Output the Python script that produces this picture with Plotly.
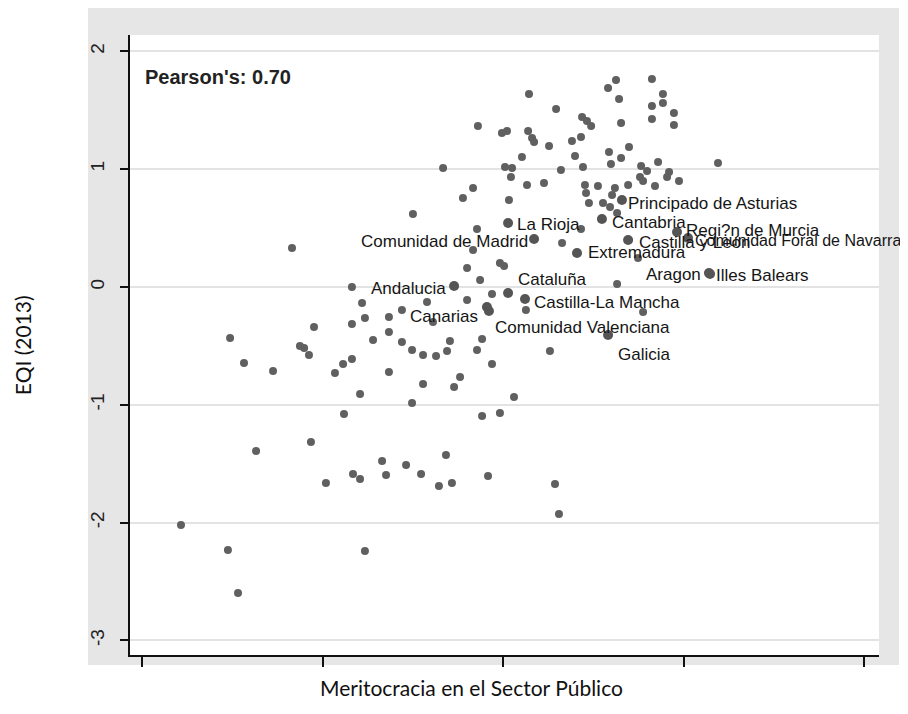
import plotly.graph_objects as go

# Unlabelled observations (Meritocracia index, EQI 2013)
other_x = [0.216, 0.476, 0.532, 0.488, 0.565, 0.726, 0.632, 0.831, 0.875, 0.898,
           0.925, 0.953, 0.936, 1.019, 1.069, 1.114, 1.163, 1.119, 1.169, 1.208,
           1.235, 1.208, 1.163, 1.219, 1.235, 1.163, 1.280, 1.368, 1.440, 1.368,
           1.440, 1.496, 1.557, 1.629, 1.690, 1.368, 1.330, 1.352, 1.463, 1.546,
           1.645, 1.684, 1.717, 1.496, 1.557, 1.579, 1.612, 1.706, 1.501, 1.668,
           1.729, 1.762, 1.856, 1.884, 1.939, 2.061, 1.884, 1.983, 1.917, 2.288,
           2.310, 2.260, 1.801, 1.801, 1.834, 1.856, 1.873, 1.983, 2.006, 1.939,
           2.127, 2.033, 1.778, 1.834, 2.133, 2.227, 2.327, 2.432, 2.632, 2.776,
           2.748, 2.144, 2.626, 2.582, 2.825, 2.643, 2.886, 2.886, 2.825, 2.947,
           2.294, 2.438, 2.465, 2.488, 2.825, 2.947, 2.654, 1.861, 1.994, 2.022,
           2.139, 2.161, 2.172, 2.382, 2.432, 2.255, 2.105, 2.698, 2.587, 2.654,
           2.598, 2.399, 2.443, 2.321, 2.011, 2.050, 2.044, 2.765, 2.798, 2.759,
           2.776, 2.859, 2.920, 2.909, 2.975, 3.191, 2.454, 2.526, 2.460, 2.620,
           2.604, 2.693, 2.842, 2.476, 2.554, 2.593, 2.632]
other_y = [-2.020, -2.233, -2.598, -0.433, -0.645, -0.713, -1.392, 0.331, -0.501, -0.518,
           -0.577, -0.340, -1.316, -1.664, -0.730, -0.654, -0.611, -1.078, -1.587, -1.630,
           -2.241, -0.908, 0.000, -0.136, -0.263, -0.314, -0.450, -0.255, -0.195, -0.382,
           -0.467, -0.535, -0.577, -0.586, -0.543, -0.722, -1.477, -1.596, -1.511, -1.587,
           -1.689, -1.426, -1.664, -0.985, -0.823, -0.127, -0.297, -0.458, 0.620, 1.010,
           -0.849, -0.764, -0.535, -0.441, -0.654, -0.934, -1.095, -1.070, -1.604, -1.672,
           -1.927, -0.543, -0.110, 0.161, 0.314, 0.492, 0.059, 0.204, 0.178, -0.059,
           -0.195, 0.739, 0.756, 0.840, 0.866, 0.883, 0.374, 0.492, 0.025, -0.212,
           0.246, 1.638, 1.757, 1.689, 1.766, 1.596, 1.638, 1.562, 1.537, 1.477,
           1.511, 1.443, 1.409, 1.367, 1.426, 1.375, 1.392, 1.367, 1.307, 1.324,
           1.324, 1.265, 1.231, 1.239, 1.273, 1.197, 1.104, 1.188, 1.146, 1.095,
           1.044, 1.112, 1.019, 0.993, 1.019, 1.010, 0.934, 1.027, 0.985, 0.934,
           0.900, 1.061, 0.976, 0.934, 0.900, 1.053, 0.866, 0.857, 0.798, 0.840,
           0.781, 0.866, 0.857, 0.713, 0.713, 0.679, 0.628]

# Spanish regions (labelled)
region_names = ["Andalucia", "Canarias", "Comunidad Valenciana", "Cataluña",
                "Castilla-La Mancha", "Comunidad de Madrid", "La Rioja",
                "Extremadura", "Cantabria", "Galicia", "Castilla y León",
                "Regi?n de Murcia", "Comunidad Foral de Navarra", "Aragon",
                "Illes Balears", "Principado de Asturias"]
region_x = [1.729, 1.911, 1.922, 2.028, 2.122, 2.172, 2.028, 2.410, 2.548, 2.582,
            2.693, 2.964, 3.025, 3.141, 3.147, 2.659]
region_y = [0.008, -0.170, -0.204, -0.051, -0.102, 0.407, 0.543, 0.289, 0.577, -0.407,
            0.399, 0.467, 0.416, 0.119, 0.110, 0.739]

x_ticks = [0, 1, 2, 3, 4]
y_ticks = [-3, -2, -1, 0, 1, 2]
y_tick_text = ["-3", "-2", "-1", "0", "1", "2"]

# label placement (xanchor, xshift, yshift, font size) per region
label_style = {
    "Andalucia": ("right", -6, -2, 17),
    "Canarias": ("right", -7, -9, 17),
    "Comunidad Valenciana": ("left", 4, -16, 17),
    "Cataluña": ("left", 8, 13, 17),
    "Castilla-La Mancha": ("left", 7, -3, 17),
    "Comunidad de Madrid": ("right", -4, -2, 17),
    "La Rioja": ("left", 7, -1, 17),
    "Extremadura": ("left", 9, 0, 17),
    "Cantabria": ("left", 8, -3, 17),
    "Galicia": ("left", 8, -20, 17),
    "Castilla y León": ("left", 9, -3, 17),
    "Regi?n de Murcia": ("left", 7, 1, 17),
    "Comunidad Foral de Navarra": ("left", 5, -3, 16),
    "Aragon": ("right", -6, -2, 17),
    "Illes Balears": ("left", 4, -1, 17),
    "Principado de Asturias": ("left", 4, -4, 17),
}

fig = go.Figure()
fig.add_trace(go.Scatter(
    x=other_x, y=other_y, mode="markers",
    marker=dict(size=8, color="#606060"), hoverinfo="skip", showlegend=False))
fig.add_trace(go.Scatter(
    x=region_x, y=region_y, mode="markers",
    marker=dict(size=10, color="#555555"), hoverinfo="skip", showlegend=False))

for name, xv, yv in zip(region_names, region_x, region_y):
    anc, xs, ys, fs = label_style[name]
    fig.add_annotation(x=xv, y=yv, text=name, showarrow=False, xanchor=anc,
                       yanchor="middle", xshift=xs, yshift=ys,
                       font=dict(family="Liberation Sans, Arial, sans-serif",
                                 size=fs, color="#151515"))

fig.add_annotation(xref="paper", yref="paper", x=0.0174, y=0.932,
                   text="<b>Pearson's: 0.70</b>", showarrow=False, xanchor="left",
                   yanchor="middle",
                   font=dict(family="Liberation Sans, Arial, sans-serif", size=20,
                             color="#222222"))

title_font = dict(family="Lato, Open Sans, sans-serif", size=21, color="#111111")
fig.add_annotation(xref="paper", yref="paper", x=0.4566, y=-0.0532,
                   text="Meritocracia en el Sector Público", showarrow=False,
                   xanchor="center", yanchor="middle", font=title_font)
fig.add_annotation(xref="paper", yref="paper", x=-0.144, y=0.5,
                   text="EQI (2013)", showarrow=False, textangle=-90,
                   xanchor="center", yanchor="middle", font=title_font)

gray = "#e6e6e6"
for x0, x1, y0, y1 in [(-0.056, 0, -0.0161, 1.0435), (1, 1.0267, -0.0161, 1.0435),
                       (0, 1, 1, 1.0435), (0, 1, -0.0161, 0)]:
    fig.add_shape(type="rect", xref="paper", yref="paper", x0=x0, x1=x1, y0=y0, y1=y1,
                  fillcolor=gray, line=dict(width=0), layer="below")

fig.update_xaxes(range=[-0.0665, 4.083], tickvals=x_ticks, showticklabels=False,
                 ticks="outside", ticklen=10, tickwidth=2, tickcolor="#111111",
                 showline=True, linecolor="#111111", linewidth=2,
                 showgrid=False, zeroline=False)
fig.update_yaxes(range=[-3.124, 2.139], tickvals=y_ticks, ticktext=y_tick_text,
                 tickangle=-90, ticks="outside", ticklen=8, tickwidth=2,
                 tickcolor="#111111", ticklabelstandoff=8,
                 tickfont=dict(family="Liberation Sans, Arial, sans-serif", size=19,
                               color="#222222"),
                 showline=True, linecolor="#111111", linewidth=2,
                 showgrid=True, gridcolor="#e3e3e3", gridwidth=1.5, zeroline=False)

# page body has an 8px margin, so the figure is 900x706 to fill the 908x714 window
fig.update_layout(width=900, height=706, margin=dict(l=122, r=29, t=27, b=59),
                  paper_bgcolor="white", plot_bgcolor="white", showlegend=False)

fig.write_html("out.html", config={"displayModeBar": False})
